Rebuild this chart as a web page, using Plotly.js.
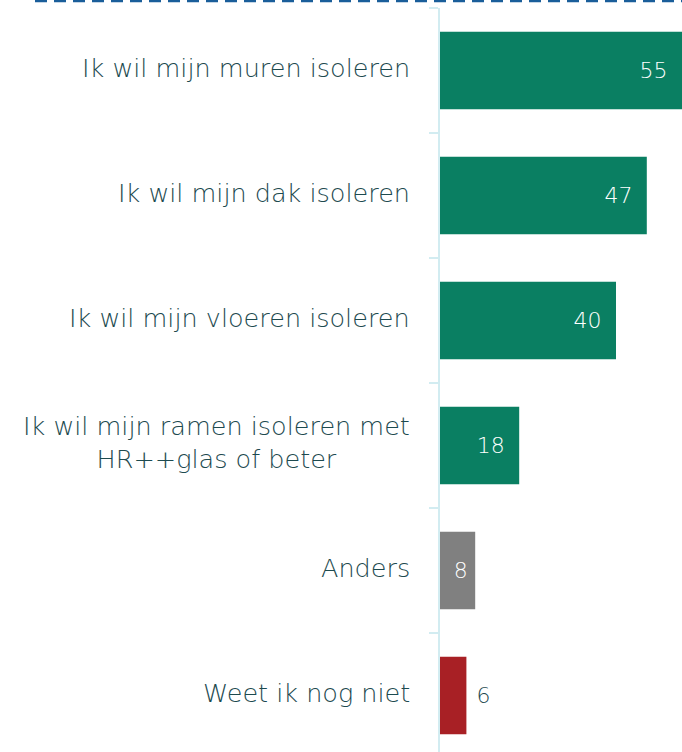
<!DOCTYPE html>
<html><head><meta charset="utf-8">
<script src="https://cdn.plot.ly/plotly-3.0.1.min.js"></script>
<style>html,body{margin:0;padding:0;background:#fff}#chart{width:682px;height:752px}</style>
</head><body><div id="chart"></div>
<script>
const categories = [
  "Ik wil mijn muren isoleren",
  "Ik wil mijn dak isoleren",
  "Ik wil mijn vloeren isoleren",
  "Ik wil mijn ramen isoleren met<br>HR++glas of beter",
  "Anders",
  "Weet ik nog niet"
];
const values = [55, 47, 40, 18, 8, 6];
const barColors = ["#0a7f62", "#0a7f62", "#0a7f62", "#0a7f62", "#808080", "#a82025"];
const textPositions = ["inside", "inside", "inside", "inside", "inside", "outside"];
const textTemplates = ["%{x}\u00a0\u2009", "%{x}\u00a0\u2009", "%{x}\u00a0\u2009", "%{x}\u00a0\u2009", "%{x}\u2009", "\u00a0%{x}"];
const textColors = ["#ffffff", "#ffffff", "#ffffff", "#ffffff", "#ffffff", "#1d4a4f"];

const FONT = "'DejaVu Sans', Lato, sans-serif";
const ink = "#1d4a4f";
const axisBlue = "#d2ecf1";

const idx = categories.map((_, i) => i);

const trace = {
  type: "bar",
  orientation: "h",
  x: values,
  y: idx,
  width: 0.62,
  marker: {color: barColors, line: {width: 0}},
  texttemplate: textTemplates,
  textposition: textPositions,
  insidetextanchor: "end",
  textfont: {family: FONT, size: 22, color: textColors, weight: 200},
  insidetextfont: {family: FONT, size: 22, color: textColors, weight: 200},
  outsidetextfont: {family: FONT, size: 22, color: textColors, weight: 200},
  constraintext: "none",
  cliponaxis: false,
  hoverinfo: "skip"
};

const annotations = categories.map((c, i) => ({
  xref: "paper", yref: "y",
  x: 0, y: i,
  xshift: -28, yshift: 3,
  xanchor: "right", yanchor: "middle",
  align: "center",
  text: c,
  showarrow: false,
  font: {family: FONT, size: 25.5, color: ink, weight: 200}
}));

const layout = {
  width: 682, height: 752,
  margin: {l: 440, r: 0, t: 8, b: 0, pad: 0},
  paper_bgcolor: "#fff", plot_bgcolor: "#fff",
  showlegend: false,
  xaxis: {range: [0, 55], visible: false, fixedrange: true},
  yaxis: {
    type: "linear",
    range: [5.452, -0.5],
    tickmode: "array",
    tickvals: [-0.5, 0.5, 1.5, 2.5, 3.5, 4.5, 5.5],
    ticktext: ["", "", "", "", "", "", ""],
    ticks: "outside", ticklen: 9, tickwidth: 2, tickcolor: axisBlue,
    showline: true, linecolor: axisBlue, linewidth: 2,
    showgrid: false, zeroline: false, fixedrange: true
  },
  annotations: annotations,
  shapes: [{
    type: "line", xref: "paper", yref: "paper",
    x0: (35 - 440) / 242, x1: 1.05,
    y0: 1 + 7 / 744, y1: 1 + 7 / 744,
    line: {color: "#1a5e9a", width: 2.5, dash: "12px,7px"}
  }]
};

Plotly.newPlot("chart", [trace], layout, {staticPlot: true, displayModeBar: false});
</script>
</body></html>
